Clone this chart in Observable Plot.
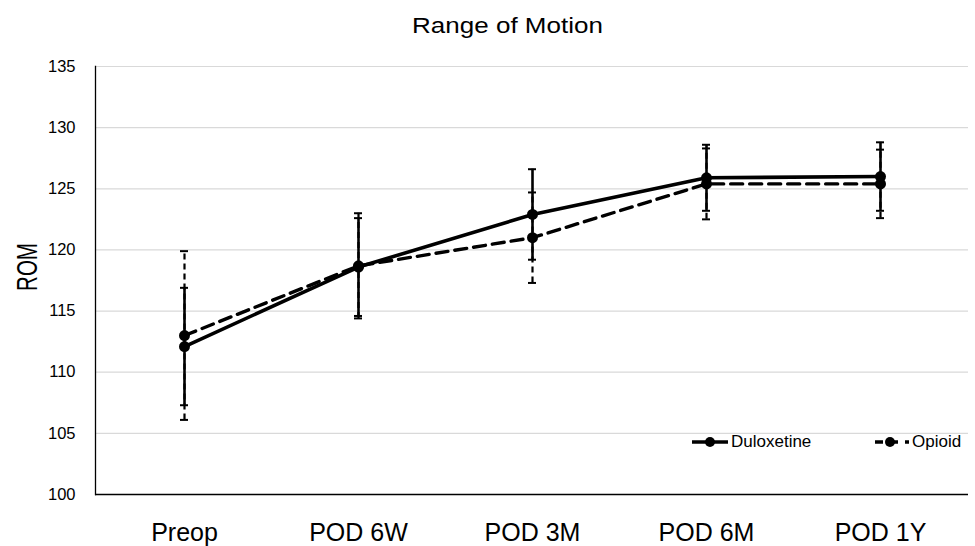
<!DOCTYPE html>
<html>
<head>
<meta charset="utf-8">
<script src="https://cdn.jsdelivr.net/npm/d3@7"></script>
<script src="https://cdn.jsdelivr.net/npm/@observablehq/plot@0.6"></script>
<style>
  body { margin: 0; background: #fff; font-family: "Liberation Sans", Arial, sans-serif; }
  #wrap { position: relative; width: 975px; height: 546px; overflow: hidden; }
  #title { height: 50px; line-height: 50px; text-align: center; padding-left: 40px; box-sizing: border-box; width: 975px; }
  #title span { display: inline-block; font-size: 26px; transform: scaleY(0.85); color: #000; }
  #ylab { position: absolute; left: 27px; top: 267px; width: 0; height: 0; }
  #ylab span { position: absolute; transform: translate(-50%, -50%) rotate(-90deg) scale(0.82, 1.2); font-size: 25px; white-space: nowrap; color: #000; }
  #legend { position: absolute; top: 432px; left: 690px; font-size: 17px; color: #000; }
  .item { position: absolute; top: 0; display: flex; align-items: center; white-space: nowrap; height: 20px; }
</style>
</head>
<body>
<div id="wrap">
  <div id="title"><span>Range of Motion</span></div>
  <div id="chart"></div>
  <div id="ylab"><span>ROM</span></div>
  <div id="legend"></div>
</div>
<script>
const categories = ["Preop", "POD 6W", "POD 3M", "POD 6M", "POD 1Y"];
const duloxetine = [112.1, 118.6, 122.9, 125.9, 126.0];
const duloxetineErr = [4.8, 4.0, 3.7, 2.7, 2.8];
const opioid = [113.0, 118.7, 121.0, 125.4, 125.4];
const opioidErr = [6.9, 4.3, 3.7, 2.9, 2.8];
const yTicks = [100, 105, 110, 115, 120, 125, 130, 135];
const seriesNames = ["Duloxetine", "Opioid"];

const dul = categories.map((c, i) => ({x: c, y: duloxetine[i], lo: duloxetine[i] - duloxetineErr[i], hi: duloxetine[i] + duloxetineErr[i]}));
const opi = categories.map((c, i) => ({x: c, y: opioid[i], lo: opioid[i] - opioidErr[i], hi: opioid[i] + opioidErr[i]}));

const capInset = 83;
const chart = Plot.plot({
  width: 975,
  height: 496,
  marginLeft: 95,
  marginRight: 7,
  marginTop: 16,
  marginBottom: 52,
  style: {fontFamily: "Liberation Sans, Arial, sans-serif", color: "#000", background: "#fff"},
  x: {type: "band", domain: categories, padding: 0, label: null},
  y: {domain: [100, 135], label: null},
  marks: [
    Plot.gridY(yTicks, {stroke: "#d9d9d9", strokeOpacity: 1, strokeWidth: 1.2}),
    Plot.axisY(yTicks, {tickSize: 0, tickPadding: 20, fontSize: 16.5, label: null, fill: "#000"}),
    Plot.axisX({tickSize: 0, tickPadding: 29, fontSize: 25, label: null, fill: "#000"}),
    Plot.ruleY([100], {stroke: "#000", strokeWidth: 1.3}),
    Plot.frame({anchor: "left", stroke: "#000", strokeWidth: 1.3}),
    // Opioid error bars (dashed)
    Plot.ruleX(opi, {x: "x", y1: "lo", y2: "hi", stroke: "#000", strokeWidth: 2.2, strokeDasharray: "6,4"}),
    Plot.tickY(opi, {x: "x", y: "lo", stroke: "#000", strokeWidth: 2, insetLeft: capInset, insetRight: capInset}),
    Plot.tickY(opi, {x: "x", y: "hi", stroke: "#000", strokeWidth: 2, insetLeft: capInset, insetRight: capInset}),
    // Duloxetine error bars (solid)
    Plot.ruleX(dul, {x: "x", y1: "lo", y2: "hi", stroke: "#000", strokeWidth: 2.6}),
    Plot.tickY(dul, {x: "x", y: "lo", stroke: "#000", strokeWidth: 2, insetLeft: capInset, insetRight: capInset}),
    Plot.tickY(dul, {x: "x", y: "hi", stroke: "#000", strokeWidth: 2, insetLeft: capInset, insetRight: capInset}),
    // Lines
    Plot.line(opi, {x: "x", y: "y", stroke: "#000", strokeWidth: 3.4, strokeDasharray: "12,7", curve: "linear"}),
    Plot.line(dul, {x: "x", y: "y", stroke: "#000", strokeWidth: 3.6, curve: "linear"}),
    Plot.dot(opi, {x: "x", y: "y", r: 5.5, fill: "#000", stroke: "none"}),
    Plot.dot(dul, {x: "x", y: "y", r: 5.5, fill: "#000", stroke: "none"})
  ]
});
document.getElementById("chart").appendChild(chart);

// legend
const legend = d3.select("#legend");
const offsets = [0, 183];
seriesNames.forEach((name, i) => {
  const item = legend.append("div").attr("class", "item").style("left", offsets[i] + "px");
  const w = i === 0 ? 38 : 36;
  const svg = item.append("svg").attr("width", w + 2).attr("height", 20);
  svg.append("line").attr("x1", 2).attr("x2", w).attr("y1", 10).attr("y2", 10)
    .attr("stroke", "#000").attr("stroke-width", 3.4)
    .attr("stroke-dasharray", i === 0 ? null : "8,7");
  svg.append("circle").attr("cx", i === 0 ? 20 : 17).attr("cy", 10).attr("r", 5).attr("fill", "#000");
  item.append("span").text(name).style("margin-left", "1px");
});
</script>
</body>
</html>
